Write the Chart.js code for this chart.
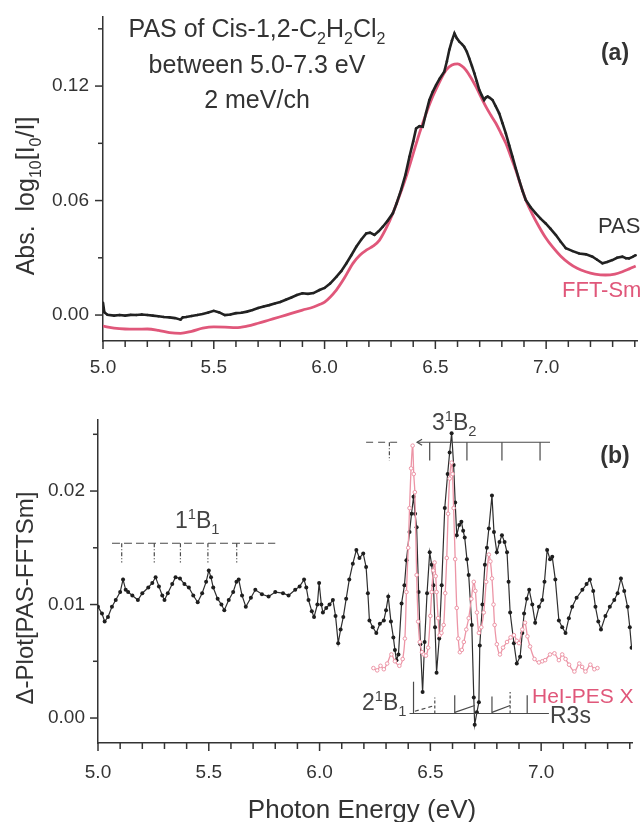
<!DOCTYPE html>
<html><head><meta charset="utf-8">
<script src="https://cdn.jsdelivr.net/npm/chart.js@4/dist/chart.umd.min.js"></script>
<style>
html,body{margin:0;padding:0;background:#fff;}
#wrap{position:relative;width:644px;height:822px;overflow:hidden;}
canvas{position:absolute;left:0;}
#c1{top:0;} #c2{top:410px;}
</style></head><body>
<div id="wrap"><canvas id="c1" width="644" height="410"></canvas><canvas id="c2" width="644" height="412"></canvas></div>
<script>
const pasE = [5.000,5.006,5.02,5.05,5.075,5.10,5.125,5.15,5.175,5.20,5.225,5.25,5.275,5.30,5.325,5.35,5.36,5.375,5.40,5.425,5.45,5.475,5.50,5.525,5.55,5.575,5.60,5.625,5.65,5.675,5.70,5.725,5.75,5.775,5.80,5.825,5.85,5.875,5.90,5.925,5.95,5.977,6.00,6.025,6.053,6.075,6.098,6.12,6.143,6.165,6.188,6.205,6.225,6.245,6.263,6.285,6.308,6.325,6.345,6.365,6.383,6.40,6.413,6.428,6.443,6.458,6.473,6.488,6.503,6.52,6.54,6.552,6.563,6.575,6.586,6.597,6.608,6.62,6.63,6.642,6.653,6.665,6.676,6.687,6.698,6.71,6.72,6.728,6.736,6.746,6.758,6.772,6.788,6.803,6.818,6.833,6.848,6.863,6.878,6.893,6.908,6.93,6.953,6.975,6.998,7.02,7.044,7.065,7.089,7.12,7.149,7.18,7.209,7.23,7.254,7.275,7.299,7.32,7.344,7.36,7.374,7.39,7.404];
const pasA = [0.0065,0.0015,0.0002,-0.0003,0.0000,-0.0003,0.0001,0.0000,0.0003,0.0000,-0.0003,-0.0006,-0.0010,-0.0012,-0.0016,-0.0024,-0.0012,-0.0010,-0.0005,0.0000,0.0006,0.0013,0.0022,0.0014,0.0000,0.0003,0.0010,0.0012,0.0018,0.0026,0.0037,0.0045,0.0052,0.0060,0.0068,0.0080,0.0092,0.0105,0.0114,0.0111,0.0115,0.0131,0.0142,0.0165,0.0200,0.0230,0.0270,0.0312,0.0358,0.0395,0.0428,0.0432,0.0420,0.0440,0.0463,0.0495,0.0533,0.0585,0.0655,0.0735,0.0830,0.0910,0.0978,0.0990,0.0987,0.1060,0.1127,0.1170,0.1205,0.1240,0.1275,0.1330,0.1390,0.1440,0.1476,0.1450,0.1433,0.1420,0.1406,0.1380,0.1345,0.1305,0.1267,0.1225,0.1180,0.1150,0.1127,0.1140,0.1145,0.1138,0.1127,0.1095,0.1057,0.1005,0.0952,0.0890,0.0830,0.0768,0.0708,0.0652,0.0603,0.0565,0.0533,0.0505,0.0480,0.0452,0.0419,0.0385,0.0350,0.0335,0.0323,0.0318,0.0306,0.0290,0.0271,0.0278,0.0288,0.0300,0.0306,0.0298,0.0297,0.0305,0.0314];
const fftE = [5.0,5.05,5.10,5.15,5.20,5.25,5.30,5.35,5.40,5.45,5.50,5.55,5.60,5.65,5.70,5.75,5.80,5.85,5.90,5.95,5.977,6.00,6.053,6.09,6.128,6.16,6.188,6.22,6.248,6.278,6.308,6.338,6.368,6.398,6.428,6.458,6.488,6.518,6.548,6.575,6.60,6.62,6.638,6.66,6.683,6.705,6.728,6.75,6.773,6.795,6.818,6.84,6.863,6.885,6.908,6.938,6.968,6.998,7.028,7.065,7.104,7.14,7.179,7.22,7.268,7.31,7.344,7.375,7.404];
const fftA = [-0.0058,-0.0068,-0.0073,-0.0074,-0.0073,-0.0080,-0.0092,-0.0096,-0.0085,-0.0069,-0.0062,-0.0063,-0.0066,-0.0058,-0.0043,-0.0026,-0.0009,0.0009,0.0026,0.0042,0.0055,0.0068,0.0131,0.0195,0.0271,0.0315,0.0340,0.0362,0.0393,0.0455,0.0533,0.0625,0.0725,0.0838,0.0952,0.1055,0.1145,0.1220,0.1284,0.1310,0.1316,0.1305,0.1284,0.1245,0.1197,0.1145,0.1092,0.1048,0.1005,0.0955,0.0900,0.0832,0.0760,0.0680,0.0603,0.0528,0.0463,0.0405,0.0358,0.0310,0.0271,0.0245,0.0227,0.0215,0.0210,0.0215,0.0227,0.0242,0.0257];
const deltaE = [5.000,5.018,5.030,5.045,5.063,5.080,5.100,5.113,5.125,5.136,5.155,5.180,5.200,5.227,5.245,5.260,5.275,5.290,5.300,5.315,5.335,5.350,5.370,5.390,5.410,5.430,5.450,5.470,5.488,5.500,5.510,5.520,5.540,5.557,5.570,5.590,5.610,5.625,5.635,5.650,5.667,5.690,5.710,5.740,5.770,5.800,5.835,5.860,5.890,5.910,5.930,5.940,5.950,5.965,5.975,5.990,5.998,6.008,6.015,6.030,6.045,6.060,6.072,6.084,6.095,6.107,6.120,6.134,6.150,6.166,6.180,6.197,6.210,6.218,6.225,6.240,6.256,6.272,6.290,6.300,6.310,6.322,6.333,6.340,6.347,6.356,6.370,6.383,6.392,6.406,6.415,6.424,6.431,6.438,6.447,6.455,6.465,6.474,6.485,6.497,6.506,6.514,6.521,6.528,6.540,6.551,6.565,6.578,6.587,6.596,6.605,6.612,6.619,6.630,6.640,6.648,6.655,6.665,6.673,6.687,6.696,6.700,6.710,6.719,6.723,6.735,6.746,6.755,6.764,6.778,6.787,6.800,6.812,6.823,6.835,6.846,6.853,6.860,6.877,6.890,6.905,6.915,6.923,6.935,6.946,6.960,6.973,6.990,7.005,7.015,7.027,7.040,7.050,7.064,7.080,7.095,7.110,7.125,7.140,7.160,7.186,7.205,7.220,7.235,7.245,7.258,7.270,7.290,7.310,7.330,7.345,7.360,7.375,7.390,7.400,7.408];
const deltaA = [0.0098,0.0092,0.0085,0.0089,0.0098,0.0104,0.0111,0.0122,0.0113,0.0111,0.0108,0.0104,0.0110,0.0115,0.0119,0.0124,0.0116,0.0108,0.0104,0.0110,0.0118,0.0124,0.0123,0.0118,0.0115,0.0108,0.0102,0.0110,0.0120,0.0130,0.0124,0.0115,0.0105,0.0100,0.0095,0.0104,0.0111,0.0120,0.0122,0.0108,0.0098,0.0106,0.0113,0.0109,0.0107,0.0111,0.0110,0.0108,0.0113,0.0116,0.0122,0.0115,0.0104,0.0094,0.0089,0.0100,0.0119,0.0100,0.0093,0.0097,0.0100,0.0104,0.0090,0.0066,0.0078,0.0089,0.0105,0.0122,0.0136,0.0148,0.0141,0.0145,0.0133,0.0110,0.0086,0.0080,0.0075,0.0083,0.0086,0.0095,0.0107,0.0085,0.0071,0.0060,0.0051,0.0056,0.0101,0.0117,0.0139,0.0164,0.0180,0.0195,0.0180,0.0168,0.0111,0.0065,0.0023,0.0067,0.0110,0.0146,0.0135,0.0117,0.0080,0.0040,0.0070,0.0117,0.0185,0.0215,0.0234,0.0251,0.0223,0.0190,0.0161,0.0170,0.0173,0.0165,0.0159,0.0140,0.0126,0.0082,0.0018,-0.0006,0.0005,0.0014,0.0064,0.0100,0.0135,0.0150,0.0167,0.0196,0.0164,0.0146,0.0155,0.0161,0.0155,0.0146,0.0120,0.0093,0.0066,0.0048,0.0054,0.0075,0.0092,0.0105,0.0113,0.0100,0.0084,0.0098,0.0104,0.0120,0.0148,0.0140,0.0142,0.0122,0.0086,0.0080,0.0075,0.0088,0.0098,0.0106,0.0113,0.0118,0.0122,0.0112,0.0098,0.0085,0.0078,0.0090,0.0098,0.0104,0.0110,0.0123,0.0112,0.0098,0.0080,0.0062];
const pesE = [6.243,6.260,6.275,6.290,6.305,6.324,6.340,6.360,6.375,6.385,6.392,6.400,6.406,6.413,6.420,6.425,6.430,6.438,6.445,6.452,6.462,6.470,6.480,6.490,6.500,6.506,6.513,6.519,6.524,6.528,6.535,6.542,6.550,6.560,6.567,6.574,6.580,6.587,6.596,6.600,6.605,6.612,6.619,6.626,6.633,6.642,6.651,6.662,6.673,6.685,6.696,6.703,6.710,6.719,6.730,6.741,6.752,6.764,6.771,6.778,6.785,6.790,6.800,6.814,6.828,6.846,6.862,6.877,6.890,6.900,6.915,6.927,6.938,6.950,6.970,6.990,7.005,7.018,7.040,7.060,7.080,7.095,7.110,7.126,7.150,7.172,7.185,7.200,7.222,7.240,7.254];
const pesA = [0.0044,0.0042,0.0046,0.0043,0.0048,0.0056,0.0050,0.0046,0.0052,0.0070,0.0111,0.0150,0.0185,0.0220,0.0240,0.0215,0.0199,0.0126,0.0085,0.0067,0.0058,0.0056,0.0055,0.0062,0.0090,0.0111,0.0130,0.0137,0.0125,0.0111,0.0088,0.0073,0.0075,0.0082,0.0110,0.0141,0.0180,0.0211,0.0225,0.0215,0.0185,0.0140,0.0097,0.0070,0.0058,0.0060,0.0067,0.0078,0.0088,0.0105,0.0120,0.0112,0.0093,0.0075,0.0080,0.0093,0.0120,0.0144,0.0138,0.0123,0.0100,0.0082,0.0065,0.0056,0.0062,0.0067,0.0071,0.0073,0.0068,0.0066,0.0078,0.0084,0.0072,0.0063,0.0052,0.0049,0.0050,0.0051,0.0056,0.0057,0.0051,0.0056,0.0052,0.0047,0.0041,0.0048,0.0045,0.0041,0.0047,0.0043,0.0044];
const xMajor = [5.0,5.5,6.0,6.5,7.0];
const yMajorA = [0.00,0.06,0.12];
const yMinorA = [0.03,0.09,0.15];
const yMajorB = [0.00,0.01,0.02];
const yMinorB = [0.005,0.015,0.025];
const b1Ticks = [5.107,5.254,5.372,5.496,5.626];
const b2TicksDashed = [6.315];
const b2Ticks = [6.497,6.665,6.823,6.995];
const r3sTicks = [6.424,6.61,6.778,6.937];
const r3sTickTops = [0.0032,0.0020,0.0019,0.0020];
const r3sDashed = [6.52,6.86];
const r3sDashedTops = [0.0018,0.0023];

const FAM = '"Liberation Sans", Arial, Helvetica, sans-serif';
const INK = '#333333';
const RED = '#e0577a';
const PINK = '#ec95a6';
const toXY = (xs, ys) => xs.map((x, i) => ({x, y: ys[i]}));

function rich(ctx, x, y, segs, size, o = {}) {
  const weight = o.bold ? 'bold ' : '';
  let w = 0;
  const parts = segs.map(([t, m]) => {
    const fs = m ? size * 0.64 : size;
    ctx.font = weight + fs + 'px ' + FAM;
    const mw = ctx.measureText(t).width;
    w += mw;
    return {t, m, fs, mw};
  });
  ctx.save();
  ctx.fillStyle = o.color || INK;
  ctx.textBaseline = 'alphabetic';
  ctx.textAlign = 'left';
  ctx.translate(x, y);
  if (o.rot) ctx.rotate(o.rot);
  let cx = o.align === 'center' ? -w / 2 : (o.align === 'right' ? -w : 0);
  parts.forEach(p => {
    ctx.font = weight + p.fs + 'px ' + FAM;
    const dy = p.m === 'sub' ? size * 0.27 : (p.m === 'sup' ? -size * 0.40 : 0);
    ctx.fillText(p.t, cx, dy);
    cx += p.mw;
  });
  ctx.restore();
}

const axisTicks = {
  id: 'axisTicks',
  afterDraw(chart, args, opts) {
    const ctx = chart.ctx, xs = chart.scales.x, ys = chart.scales.y, a = chart.chartArea;
    ctx.save();
    ctx.strokeStyle = INK; ctx.lineWidth = 1.5;
    for (let k = 0; k <= 24; k++) {
      const v = 5 + k * 0.1;
      if (v > xs.max + 1e-9) break;
      const major = xMajor.some(m => Math.abs(m - v) < 1e-6);
      const px = xs.getPixelForValue(v);
      ctx.beginPath(); ctx.moveTo(px, a.bottom); ctx.lineTo(px, a.bottom + (major ? 8 : 6)); ctx.stroke();
    }
    opts.yMajor.forEach(v => { const py = ys.getPixelForValue(v); ctx.beginPath(); ctx.moveTo(a.left, py); ctx.lineTo(a.left - 8, py); ctx.stroke(); });
    opts.yMinor.forEach(v => { const py = ys.getPixelForValue(v); ctx.beginPath(); ctx.moveTo(a.left, py); ctx.lineTo(a.left - 5, py); ctx.stroke(); });
    ctx.restore();
  }
};

function noPad(s) { s.paddingTop = 0; s.paddingBottom = 0; s.paddingLeft = 0; s.paddingRight = 0; }

function baseScales(cfg) {
  return {
    x: {
      type: 'linear', min: 5.0, max: cfg.xmax,
      afterFit: s => { s.height = cfg.xh; noPad(s); },
      grid: {display: false, drawTicks: false},
      border: {display: true, color: INK, width: 1.5},
      ticks: {stepSize: 0.5, includeBounds: false, padding: cfg.xpad, color: INK,
              font: {family: FAM, size: 19}, callback: v => Number(v).toFixed(1), autoSkip: false, maxRotation: 0}
    },
    y: {
      type: 'linear', min: cfg.ymin, max: cfg.ymax,
      afterFit: s => { s.width = cfg.yw; noPad(s); },
      grid: {display: false, drawTicks: false},
      border: {display: true, color: INK, width: 1.5},
      ticks: {stepSize: cfg.ystep, includeBounds: false, padding: cfg.ypad, color: INK,
              font: {family: FAM, size: 19}, callback: v => Number(v).toFixed(2)}
    }
  };
}

const textA = {
  id: 'textA',
  afterDraw(chart) {
    const ctx = chart.ctx;
    rich(ctx, 257, 37, [['PAS of Cis-1,2-C',''],['2','sub'],['H',''],['2','sub'],['Cl',''],['2','sub']], 25, {align: 'center'});
    rich(ctx, 257, 73, [['between 5.0-7.3 eV','']], 25, {align: 'center'});
    rich(ctx, 257, 108, [['2 meV/ch','']], 25, {align: 'center'});
    rich(ctx, 615, 60, [['(a)','']], 23, {align: 'center', bold: true});
    rich(ctx, 598, 233, [['PAS','']], 22);
    rich(ctx, 562, 297, [['FFT-Sm','']], 22, {color: RED});
    rich(ctx, 34, 196, [['Abs.  log',''],['10','sub'],['[I',''],['0','sub'],['/I]','']], 25, {align: 'center', rot: -Math.PI / 2});
  }
};

new Chart(document.getElementById('c1'), {
  type: 'line',
  data: {
    datasets: [
      {label: 'PAS', data: toXY(pasE, pasA), borderColor: '#222', backgroundColor: '#222',
       borderWidth: 2.6, pointRadius: 1.2, pointBorderWidth: 0, tension: 0, order: 1},
      {label: 'FFT-Sm', data: toXY(fftE, fftA), borderColor: RED, borderWidth: 2.8,
       pointRadius: 0, tension: 0.4, cubicInterpolationMode: 'monotone', order: 2}
    ]
  },
  options: {
    responsive: false, animation: false, devicePixelRatio: 1,
    layout: {padding: {left: 0, right: 7, top: 17, bottom: 0}},
    plugins: {legend: {display: false}, tooltip: {enabled: false},
              axisTicks: {yMajor: yMajorA, yMinor: yMinorA}},
    scales: baseScales({xmax: 7.41, xh: 69, xpad: 15, ymin: -0.0136, ymax: 0.1562, ystep: 0.06, yw: 103, ypad: 14})
  },
  plugins: [axisTicks, textA]
});

const ladders = {
  id: 'ladders',
  afterDatasetsDraw(chart) {
    const ctx = chart.ctx, xs = chart.scales.x, ys = chart.scales.y;
    const X = v => xs.getPixelForValue(v), Y = v => ys.getPixelForValue(v);
    const seg = (x1, y1, x2, y2, dash) => {
      ctx.setLineDash(dash || []);
      ctx.beginPath(); ctx.moveTo(X(x1), Y(y1)); ctx.lineTo(X(x2), Y(y2)); ctx.stroke();
    };
    ctx.save();
    ctx.strokeStyle = '#4a4a4a'; ctx.lineWidth = 1.2;
    seg(5.063, 0.0154, 5.80, 0.0154, [8, 4]);
    b1Ticks.forEach(e => seg(e, 0.0154, e, 0.0137, [4, 2, 1, 2]));
    seg(6.21, 0.0243, 6.37, 0.0243, [7, 5]);
    seg(6.44, 0.0243, 7.04, 0.0243);
    b2TicksDashed.forEach(e => seg(e, 0.0243, e, 0.0227, [4, 2, 1, 2]));
    b2Ticks.forEach(e => seg(e, 0.0243, e, 0.0227));
    ctx.setLineDash([]);
    ctx.beginPath();
    ctx.moveTo(X(6.44) + 5, Y(0.0243) - 3); ctx.lineTo(X(6.44), Y(0.0243)); ctx.lineTo(X(6.44) + 5, Y(0.0243) + 3);
    ctx.stroke();
    seg(6.406, 0.0004, 7.035, 0.0004);
    r3sTicks.forEach((e, i) => seg(e, 0.0004, e, r3sTickTops[i]));
    r3sDashed.forEach((e, i) => seg(e, 0.0004, e, r3sDashedTops[i], [3, 2]));
    seg(6.43, 0.0006, 6.52, 0.0011, [4, 3]);
    seg(6.61, 0.0005, 6.70, 0.0011);
    seg(6.778, 0.0005, 6.86, 0.0011);
    ctx.restore();
  }
};

const textB = {
  id: 'textB',
  afterDraw(chart) {
    const ctx = chart.ctx;
    rich(ctx, 615, 53, [['(b)','']], 23, {align: 'center', bold: true});
    rich(ctx, 175, 118, [['1',''],['1','sup'],['B',''],['1','sub']], 23, {color: '#444'});
    rich(ctx, 432, 20, [['3',''],['1','sup'],['B',''],['2','sub']], 23, {color: '#444'});
    rich(ctx, 362, 300, [['2',''],['1','sup'],['B',''],['1','sub']], 23, {color: '#444'});
    rich(ctx, 550, 313, [['R3s','']], 23, {color: '#444'});
    rich(ctx, 532, 293, [['HeI-PES X','']], 21, {color: RED});
    rich(ctx, 33, 188, [['Δ-Plot[PAS-FFTSm]','']], 24, {align: 'center', rot: -Math.PI / 2});
    rich(ctx, 362, 408, [['Photon Energy (eV)','']], 26, {align: 'center'});
  }
};

new Chart(document.getElementById('c2'), {
  type: 'line',
  data: {
    datasets: [
      {label: 'Delta', data: toXY(deltaE, deltaA), borderColor: '#2e2e2e', backgroundColor: '#1e1e1e',
       borderWidth: 1.2, pointRadius: 2, pointBorderWidth: 0, tension: 0, order: 2},
      {label: 'HeI-PES X', data: toXY(pesE, pesA), borderColor: PINK, backgroundColor: '#fff',
       borderWidth: 1.3, pointRadius: 1.8, pointBorderWidth: 1, pointBorderColor: PINK,
       tension: 0.3, order: 1}
    ]
  },
  options: {
    responsive: false, animation: false, devicePixelRatio: 1,
    layout: {padding: {left: 0, right: 12, top: 10, bottom: 0}},
    plugins: {legend: {display: false}, tooltip: {enabled: false},
              axisTicks: {yMajor: yMajorB, yMinor: yMinorB}},
    scales: baseScales({xmax: 7.41, xh: 79, xpad: 18, ymin: -0.0022, ymax: 0.02626, ystep: 0.01, yw: 98, ypad: 13})
  },
  plugins: [axisTicks, ladders, textB]
});
</script>
</body></html>
